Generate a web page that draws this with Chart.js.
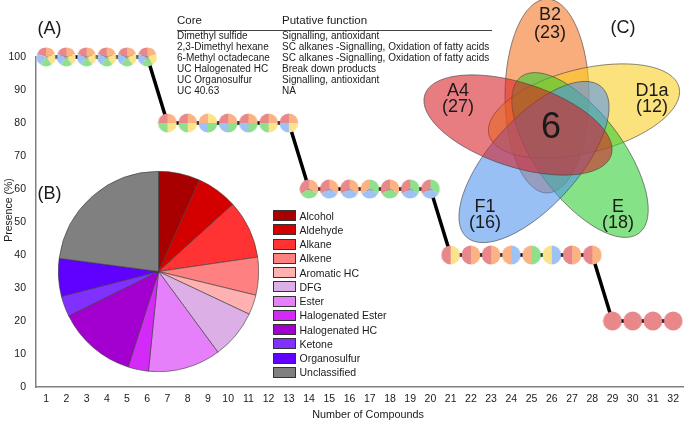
<!DOCTYPE html>
<html><head><meta charset="utf-8">
<script src="https://cdn.jsdelivr.net/npm/chart.js@4.4.1/dist/chart.umd.min.js"></script>
<style>
html,body{margin:0;padding:0;background:#fff;}
#wrap{position:relative;width:685px;height:423px;overflow:hidden;font-family:Arial,"Liberation Sans",sans-serif;color:#1a1a1a;}
#wrap canvas{position:absolute;}
.t{position:absolute;white-space:nowrap;line-height:1;}
</style></head><body>
<div id="wrap">
<canvas id="main" width="685" height="423" style="left:0;top:0"></canvas>
<canvas id="pie" width="201" height="201" style="left:58px;top:171px"></canvas>
<canvas id="venn" width="685" height="423" style="left:0;top:0"></canvas>
</div>
<script>
// ---------- DATA ----------
const compounds = ['1','2','3','4','5','6','7','8','9','10','11','12','13','14','15','16',
  '17','18','19','20','21','22','23','24','25','26','27','28','29','30','31','32'];
const presence = [100,100,100,100,100,100, 80,80,80,80,80,80,80, 60,60,60,60,60,60,60,
  40,40,40,40,40,40,40,40, 20,20,20,20];
const members = [
  'A4 B2 D1a E F1','A4 B2 D1a E F1','A4 B2 D1a E F1','A4 B2 D1a E F1','A4 B2 D1a E F1','A4 B2 D1a E F1',
  'A4 B2 D1a E','A4 B2 D1a E','B2 D1a E F1','A4 B2 E F1','A4 B2 E F1','A4 B2 D1a E','A4 B2 D1a F1',
  'A4 B2 E','A4 B2 F1','A4 B2 F1','B2 E F1','A4 B2 E','A4 E F1','A4 E F1',
  'A4 D1a','A4 B2','A4 B2','B2 F1','B2 E','D1a F1','A4 B2','A4 B2',
  'A4','A4','A4','A4'];
const yTicks = [0,10,20,30,40,50,60,70,80,90,100];

const coreCompounds = ['Dimethyl sulfide','2,3-Dimethyl hexane','6-Methyl octadecane','UC Halogenated HC','UC Organosulfur','UC 40.63'];
const coreFunctions = ['Signalling, antioxidant','SC alkanes -Signalling, Oxidation of fatty acids','SC alkanes -Signalling, Oxidation of fatty acids','Break down products','Signalling, antioxidant','NA'];

const classes = ['Alcohol','Aldehyde','Alkane','Alkene','Aromatic HC','DFG','Ester','Halogenated Ester','Halogenated HC','Ketone','Organosulfur','Unclassified'];
const classShares = [6.7,6.6,9.4,6.1,3.2,7.9,11.7,3.3,12.8,3.3,6.1,22.9];

const vennSets = ['A4','B2','D1a','E','F1'];
const vennCounts = [27,23,12,18,16];
const vennCore = 6;

// ---------- STYLES / LAYOUT ----------
const classColors = ['#a80000','#d40000','#ff3333','#ff8080','#ffb0b0','#dcb0e6','#e680fa','#d42af8','#a300d0','#8030ff','#6000ff','#808080'];
const setColors = {A4:'#e8888b',B2:'#fbb385',D1a:'#fce38b',E:'#8fe08c',F1:'#9fc2f5'};
const vennFill = {A4:'rgba(213,30,38,0.58)',B2:'rgba(247,113,30,0.58)',D1a:'rgba(250,205,30,0.58)',E:'rgba(47,205,47,0.58)',F1:'rgba(80,147,238,0.58)'};
// ellipse geometry (center in px, semi axes, orientation in degrees, math convention)
const vennLayout = {
  A4:{cx:518,cy:125,a:98,b:42,rot:162},
  B2:{cx:547,cy:96,a:97,b:42,rot:90},
  D1a:{cx:584,cy:111,a:98,b:42,rot:14},
  E:{cx:580,cy:155,a:98,b:43,rot:-53},
  F1:{cx:534,cy:162,a:101,b:44,rot:48}
};
const vennDrawOrder = ['B2','D1a','E','F1','A4'];
const vennLabelPos = {A4:[458,90,105.5],B2:[550,14,31.5],D1a:[652,89.5,105.5],E:[618,205.5,221.5],F1:[485,205.5,221.5]};

Chart.defaults.font.family = 'Arial, "Liberation Sans", sans-serif';
Chart.defaults.color = '#1a1a1a';

// ---------- TEXT HELPERS ----------
const wrap = document.getElementById('wrap');
function addText(txt, x, cy, size, align, extra){
  const d = document.createElement('div');
  d.className = 't';
  d.textContent = txt;
  d.style.left = x + 'px';
  d.style.top = cy + 'px';
  d.style.fontSize = size + 'px';
  d.style.transform = align === 'center' ? 'translate(-50%,-50%)' : 'translate(0,-50%)';
  if (extra) Object.assign(d.style, extra);
  wrap.appendChild(d);
  return d;
}

// ---------- MAIN PRESENCE CHART ----------
function makePie(list){
  const c = document.createElement('canvas');
  c.width = 20; c.height = 20;
  const g = c.getContext('2d');
  const n = list.length, r = 9.4, step = 2*Math.PI/n;
  let a = -Math.PI/2 - step;
  list.forEach(s => {
    g.beginPath(); g.moveTo(10,10); g.arc(10,10,r,a,a+step); g.closePath();
    g.fillStyle = setColors[s]; g.fill(); a += step;
  });
  return c;
}
const pointPies = members.map(m => makePie(m.split(' ')));

new Chart(document.getElementById('main'), {
  type: 'line',
  data: { labels: compounds, datasets: [{
    data: presence, borderColor: '#000', borderWidth: 3.5, tension: 0,
    pointStyle: pointPies, pointRadius: 9, clip: false, fill: false
  }]},
  options: {
    responsive: false, animation: false, events: [],
    layout: { autoPadding: false, padding: { top: 57, right: 0, left: 0, bottom: 0 } },
    plugins: { legend: { display: false }, tooltip: { enabled: false } },
    scales: {
      x: { type: 'category', offset: true,
        grid: { display: false, drawTicks: false },
        border: { display: true, color: '#808080', width: 1.5 },
        ticks: { color: '#1a1a1a', font: { size: 10.5 }, padding: 6, maxRotation: 0, autoSkip: false },
        afterFit(s){ s.height = 36; } },
      y: { min: 0, max: 100,
        grid: { display: false, drawTicks: false },
        border: { display: true, color: '#808080', width: 1.5 },
        afterBuildTicks(s){ s.ticks = yTicks.map(v => ({value: v})); },
        ticks: { color: '#1a1a1a', font: { size: 10.5 }, padding: 10 },
        afterFit(s){ s.width = 36; } }
    }
  }
});

// ---------- PIE (B) ----------
new Chart(document.getElementById('pie'), {
  type: 'pie',
  data: { labels: classes, datasets: [{ data: classShares, backgroundColor: classColors, borderColor: '#3a3a3a', borderWidth: 0.6 }] },
  options: { responsive: false, animation: false, events: [], layout: { padding: 0 },
    plugins: { legend: { display: false }, tooltip: { enabled: false } } }
});

// ---------- VENN (C) ----------
const vennPlugin = {
  id: 'vennEllipses',
  afterDatasetsDraw(chart){
    const ctx = chart.ctx, xs = chart.scales.x, ys = chart.scales.y;
    const meta = chart.getDatasetMeta(0);
    vennDrawOrder.forEach(s => {
      const i = vennSets.indexOf(s);
      const g = vennLayout[s];
      const el = meta.data[i];
      const rx = Math.abs(xs.getPixelForValue(g.cx + g.a) - xs.getPixelForValue(g.cx));
      const ry = Math.abs(ys.getPixelForValue(g.cy + g.b) - ys.getPixelForValue(g.cy));
      ctx.save();
      ctx.beginPath();
      ctx.ellipse(el.x, el.y, rx, ry, -g.rot * Math.PI / 180, 0, 2*Math.PI);
      ctx.fillStyle = vennFill[s];
      ctx.fill();
      ctx.lineWidth = 0.8;
      ctx.strokeStyle = 'rgba(70,70,70,0.8)';
      ctx.stroke();
      ctx.restore();
    });
  }
};
new Chart(document.getElementById('venn'), {
  type: 'scatter',
  data: { datasets: [{ data: vennSets.map(s => ({x: vennLayout[s].cx, y: vennLayout[s].cy})), pointRadius: 0 }] },
  options: { responsive: false, animation: false, events: [], layout: { autoPadding: false, padding: 0 },
    plugins: { legend: { display: false }, tooltip: { enabled: false } },
    scales: { x: { type: 'linear', min: 0, max: 685, display: false },
              y: { type: 'linear', min: 0, max: 423, reverse: true, display: false } } },
  plugins: [vennPlugin]
});

// ---------- TEXTS ----------
addText('(A)', 49.5, 27.5, 18, 'center');
addText('(B)', 49.5, 193, 18, 'center');
addText('(C)', 623, 27, 18, 'center');

addText('Core', 177, 21, 11.5, 'left');
addText('Putative function', 282, 21, 11.5, 'left');
const rule = document.createElement('div');
Object.assign(rule.style, {position:'absolute', left:'177px', top:'29.5px', width:'315px', height:'1px', background:'#444'});
wrap.appendChild(rule);
coreCompounds.forEach((c, i) => {
  const y = 35.5 + i * 11.15;
  addText(c, 177, y, 10, 'left');
  addText(coreFunctions[i], 282, y, 10, 'left');
});

classes.forEach((c, i) => {
  const y = 215.7 + i * 14.24;
  const b = document.createElement('div');
  Object.assign(b.style, {position:'absolute', left:'273px', top:(y-5.5)+'px', width:'23px', height:'11px',
    background: classColors[i], border:'1px solid #333', boxSizing:'border-box'});
  wrap.appendChild(b);
  addText(c, 299.5, y, 10.5, 'left');
});

vennSets.forEach((s, i) => {
  const p = vennLabelPos[s];
  addText(s, p[0], p[1], 18, 'center');
  addText('(' + vennCounts[i] + ')', p[0], p[2], 18, 'center');
});
addText(String(vennCore), 551, 126, 36, 'center');

addText('Presence (%)', 8, 210, 10.5, 'center', {transform:'translate(-50%,-50%) rotate(-90deg)'});
addText('Number of Compounds', 368, 414, 10.8, 'center');
</script>
</body></html>
